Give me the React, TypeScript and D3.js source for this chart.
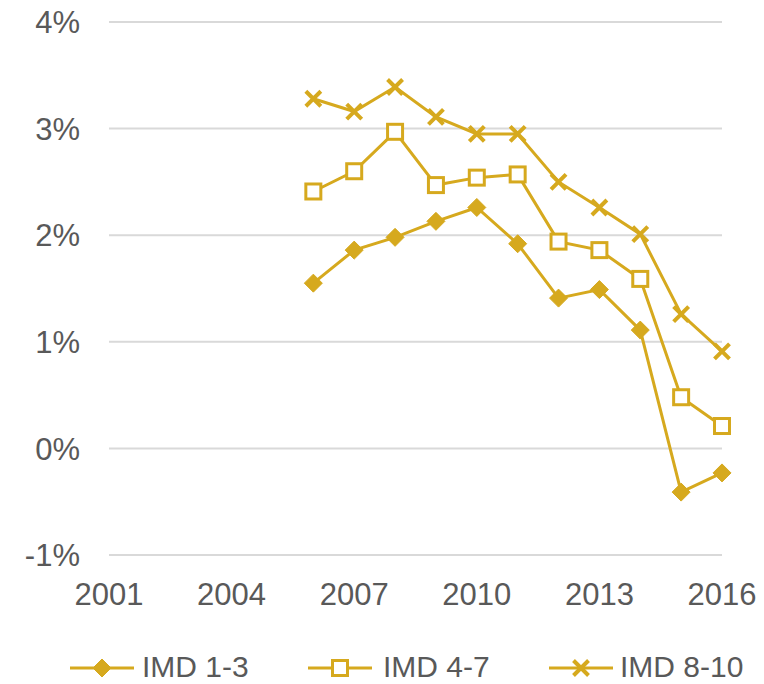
import React from "react";
import * as d3 from "d3";

const years = [2006, 2007, 2008, 2009, 2010, 2011, 2012, 2013, 2014, 2015, 2016];
const imd13 = [1.55, 1.86, 1.98, 2.13, 2.26, 1.92, 1.41, 1.49, 1.11, -0.41, -0.23];
const imd47 = [2.41, 2.6, 2.97, 2.47, 2.54, 2.57, 1.94, 1.86, 1.59, 0.48, 0.21];
const imd810 = [3.28, 3.16, 3.39, 3.11, 2.95, 2.95, 2.5, 2.26, 2.01, 1.26, 0.91];
const xTicks = [2001, 2004, 2007, 2010, 2013, 2016];
const yTicks = [-1, 0, 1, 2, 3, 4];
const seriesNames = ["IMD 1-3", "IMD 4-7", "IMD 8-10"];

const GOLD = "#d6a91e";
const TEXT = "#595959";
const FONT = "'Liberation Sans', Arial, sans-serif";

function Marker({ kind, x, y }: { kind: number; x: number; y: number }) {
  if (kind === 0) {
    const r = 9;
    return (
      <path
        d={`M${x},${y - r}L${x + r},${y}L${x},${y + r}L${x - r},${y}Z`}
        fill={GOLD}
        stroke={GOLD}
        strokeWidth={1}
        strokeLinejoin="round"
      />
    );
  }
  if (kind === 1) {
    const s = 7.5;
    return <rect x={x - s} y={y - s} width={2 * s} height={2 * s} fill="#fff" stroke={GOLD} strokeWidth={3} />;
  }
  const s = 7.5;
  return (
    <path
      d={`M${x - s},${y - s}L${x + s},${y + s}M${x - s},${y + s}L${x + s},${y - s}`}
      stroke={GOLD}
      strokeWidth={4}
      fill="none"
    />
  );
}

export default function App() {
  const W = 764;
  const H = 684;
  const x = d3.scaleLinear().domain([2001, 2016]).range([109, 722]);
  const y = d3.scaleLinear().domain([-1, 4]).range([555, 22]);
  const all = [imd13, imd47, imd810];
  const line = d3
    .line<number>()
    .x((_, i) => x(years[i]))
    .y((d) => y(d));

  const legendItems = [
    { lx: 70, tx: 142 },
    { lx: 308, tx: 383 },
    { lx: 549, tx: 620 },
  ];

  return (
    <svg width={W} height={H} style={{ position: "absolute", left: 0, top: 0 }}>
      <rect width={W} height={H} fill="#fff" />
      {yTicks.map((t) => (
        <g key={t}>
          <line x1={109} x2={722} y1={y(t)} y2={y(t)} stroke="#d9d9d9" strokeWidth={2} />
          <text
            x={80}
            y={y(t)}
            dy="0.36em"
            textAnchor="end"
            fontFamily={FONT}
            fontSize={31}
            fill={TEXT}
          >
            {t}%
          </text>
        </g>
      ))}
      {xTicks.map((t) => (
        <text key={t} x={x(t)} y={605} textAnchor="middle" fontFamily={FONT} fontSize={31} fill={TEXT}>
          {t}
        </text>
      ))}
      {all.map((s, k) => (
        <g key={k}>
          <path d={line(s) || ""} fill="none" stroke={GOLD} strokeWidth={3} />
          {s.map((v, i) => (
            <Marker key={i} kind={k} x={x(years[i])} y={y(v)} />
          ))}
        </g>
      ))}
      {legendItems.map((l, k) => (
        <g key={k}>
          <line x1={l.lx} x2={l.lx + 64} y1={668} y2={668} stroke={GOLD} strokeWidth={3} />
          <Marker kind={k} x={l.lx + 32} y={668} />
          <text x={l.tx} y={677} fontFamily={FONT} fontSize={30} fill={TEXT}>
            {seriesNames[k]}
          </text>
        </g>
      ))}
    </svg>
  );
}
